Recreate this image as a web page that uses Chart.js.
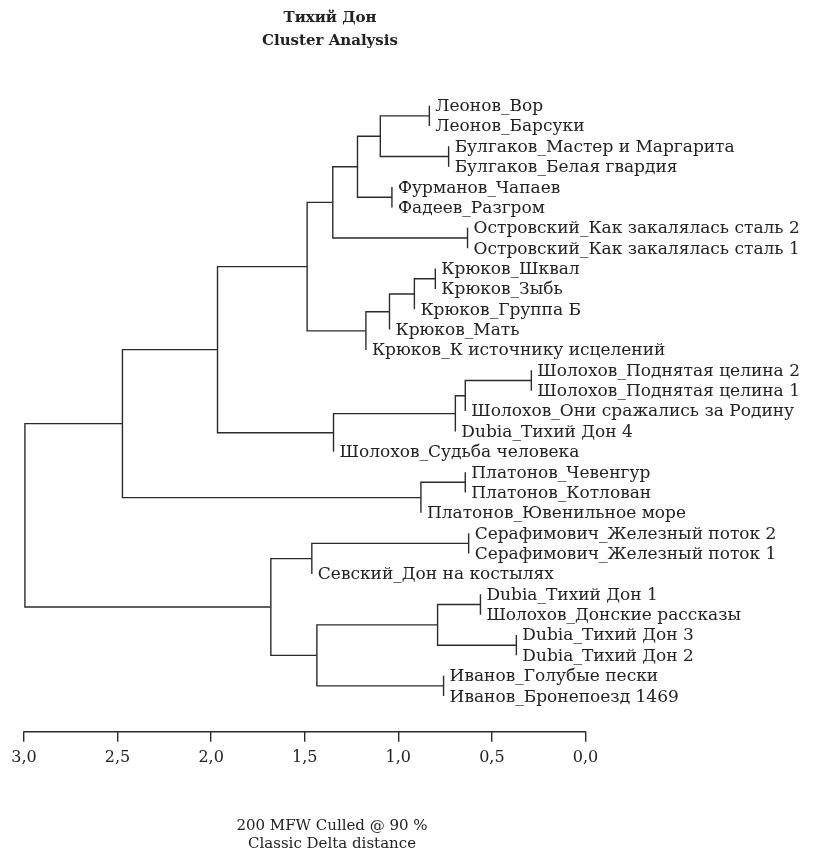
<!DOCTYPE html>
<html lang="ru">
<head>
<meta charset="utf-8">
<title>Тихий Дон — Cluster Analysis</title>
<script src="https://cdn.jsdelivr.net/npm/chart.js@4.4.1/dist/chart.umd.min.js"></script>
<style>
  html, body { margin: 0; padding: 0; background: #fff; }
  #wrap { position: relative; width: 826px; height: 853px; }
  #chart { position: absolute; left: 0; top: 0; }
  .title {
    position: absolute; left: 200px; top: 6px; width: 260px;
    text-align: center; font: bold 15px "DejaVu Serif", serif;
    line-height: 23px; color: #222;
  }
  .caption {
    position: absolute; left: 182px; top: 816px; width: 300px;
    text-align: center;
    font: 15px "DejaVu Serif", serif; line-height: 18px; color: #222;
  }
</style>
</head>
<body>
<div id="wrap">
  <canvas id="chart" width="826" height="853"></canvas>
  <div class="title">Тихий Дон<br>Cluster Analysis</div>
  <div class="caption">200 MFW Culled @ 90 %<br>Classic Delta distance</div>
</div>
<script>
// Feuilles du dendrogramme, de haut en bas
const leafLabels = [
  "Леонов_Вор",
  "Леонов_Барсуки",
  "Булгаков_Мастер и Маргарита",
  "Булгаков_Белая гвардия",
  "Фурманов_Чапаев",
  "Фадеев_Разгром",
  "Островский_Как закалялась сталь 2",
  "Островский_Как закалялась сталь 1",
  "Крюков_Шквал",
  "Крюков_Зыбь",
  "Крюков_Группа Б",
  "Крюков_Мать",
  "Крюков_К источнику исцелений",
  "Шолохов_Поднятая целина 2",
  "Шолохов_Поднятая целина 1",
  "Шолохов_Они сражались за Родину",
  "Dubia_Тихий Дон 4",
  "Шолохов_Судьба человека",
  "Платонов_Чевенгур",
  "Платонов_Котлован",
  "Платонов_Ювенильное море",
  "Серафимович_Железный поток 2",
  "Серафимович_Железный поток 1",
  "Севский_Дон на костылях",
  "Dubia_Тихий Дон 1",
  "Шолохов_Донские рассказы",
  "Dubia_Тихий Дон 3",
  "Dubia_Тихий Дон 2",
  "Иванов_Голубые пески",
  "Иванов_Бронепоезд 1469"
];

// Fusions (comme hclust : négatif = feuille, positif = fusion précédente)
const mergeLeft = [-1, -3, 1, -5, 3, -7, 5, -9, 8, 9, 10, 7, -14, 13, 14, 15, 12, -19, 18, 17, -22, 21, -25, -27, 23, -29, 25, 22, 20];
const mergeRight = [-2, -4, 2, -6, 4, -8, 6, -10, -11, -12, -13, 11, -15, -16, -17, -18, 16, -20, -21, 19, -23, -24, -26, -28, 24, -30, 26, 27, 28];
const mergeHeight = [0.834, 0.731, 1.096, 1.034, 1.218, 0.630, 1.350, 0.802, 0.914, 1.047, 1.173, 1.487, 0.289, 0.642, 0.695, 1.346, 1.966, 0.642, 0.879, 2.474, 0.624, 1.462, 0.561, 0.369, 0.790, 0.758, 1.435, 1.681, 2.995];

// Graduations de l'axe des distances
const distanceTicks = [3, 2.5, 2, 1.5, 1, 0.5, 0];

const LINE = "#2b2b2b";
const TEXT = "#222";
const FONT = '"DejaVu Serif", serif';

// Calcul des positions des noeuds
const nodeY = [];
const leafHeight = [];
const segments = [];

function childPos(ref, h) {
  if (ref < 0) {
    leafHeight[-ref - 1] = h; // feuille "suspendue" au niveau de la fusion
    return { y: -ref, h: h };
  }
  return { y: nodeY[ref - 1], h: mergeHeight[ref - 1] };
}

mergeLeft.forEach((left, k) => {
  const h = mergeHeight[k];
  const a = childPos(left, h);
  const b = childPos(mergeRight[k], h);
  nodeY[k] = (a.y + b.y) / 2;
  segments.push([
    { x: a.h, y: a.y },
    { x: h, y: a.y },
    { x: h, y: b.y },
    { x: b.h, y: b.y }
  ]);
});

// Ligne de l'axe, seulement de 3,0 à 0,0
const axisLine = {
  id: "axisLine",
  afterDraw(chart) {
    const xs = chart.scales.x;
    const ctx = chart.ctx;
    const x0 = xs.getPixelForValue(distanceTicks[0]);
    const x1 = xs.getPixelForValue(distanceTicks[distanceTicks.length - 1]);
    ctx.save();
    ctx.strokeStyle = LINE;
    ctx.lineWidth = 1.4;
    ctx.beginPath();
    ctx.moveTo(x0 - 0.7, xs.top);
    ctx.lineTo(x1 + 0.7, xs.top);
    ctx.stroke();
    ctx.restore();
  }
};

// Étiquettes des feuilles
const leafText = {
  id: "leafText",
  afterDatasetsDraw(chart) {
    const xs = chart.scales.x;
    const ys = chart.scales.y;
    const ctx = chart.ctx;
    ctx.save();
    ctx.font = "17px " + FONT;
    ctx.fillStyle = TEXT;
    ctx.textAlign = "left";
    ctx.textBaseline = "middle";
    leafLabels.forEach((label, i) => {
      const x = xs.getPixelForValue(leafHeight[i]) + 6;
      const y = ys.getPixelForValue(i + 1) + 1;
      ctx.fillText(label, x, y);
    });
    ctx.restore();
  }
};

const ctx = document.getElementById("chart").getContext("2d");
new Chart(ctx, {
  type: "scatter",
  data: {
    datasets: segments.map((pts) => ({
      data: pts,
      showLine: true,
      borderColor: LINE,
      borderWidth: 1.4,
      pointRadius: 0,
      fill: false,
      tension: 0
    }))
  },
  options: {
    responsive: false,
    animation: false,
    devicePixelRatio: 1,
    events: [],
    layout: { padding: { top: 60, left: 24, right: 16, bottom: 80 } },
    plugins: {
      legend: { display: false },
      tooltip: { enabled: false }
    },
    scales: {
      x: {
        type: "linear",
        reverse: true,
        min: -1.2,
        max: 3,
        afterBuildTicks: (scale) => {
          scale.ticks = distanceTicks.map((v) => ({ value: v }));
        },
        ticks: {
          callback: (v) => Number(v).toFixed(1).replace(".", ","),
          font: { family: FONT, size: 16 },
          color: TEXT,
          padding: 6,
          autoSkip: false,
          maxRotation: 0
        },
        grid: {
          drawOnChartArea: false,
          drawTicks: true,
          tickLength: 10,
          color: LINE,
          lineWidth: 1.4
        },
        border: { display: false }
      },
      y: {
        type: "linear",
        reverse: true,
        min: -1.242,
        max: 31.754,
        display: false
      }
    }
  },
  plugins: [axisLine, leafText]
});
</script>
</body>
</html>
